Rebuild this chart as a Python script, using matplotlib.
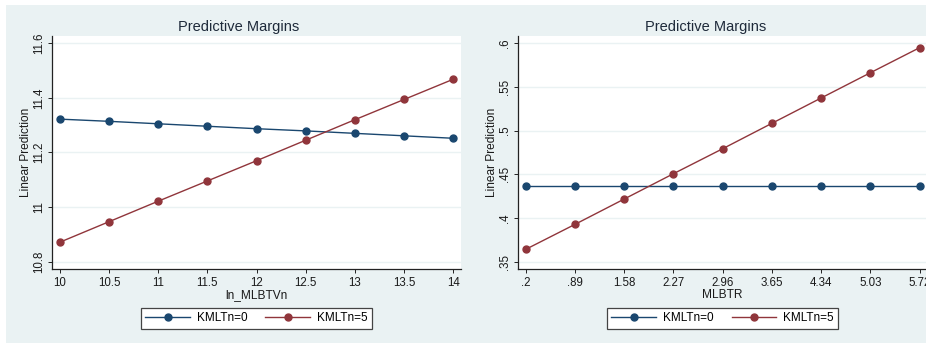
import numpy as np
import matplotlib
matplotlib.use("Agg")
import matplotlib.pyplot as plt
from matplotlib.patches import Rectangle

plt.rcParams['font.family'] = ['Liberation Sans', 'DejaVu Sans']

# left panel: ln_MLBTVn
x_left = [10, 10.5, 11, 11.5, 12, 12.5, 13, 13.5, 14]
left_k0 = [11.322, 11.314, 11.305, 11.296, 11.287, 11.279, 11.270, 11.261, 11.252]
left_k5 = [10.872, 10.947, 11.022, 11.096, 11.170, 11.245, 11.320, 11.394, 11.468]
left_yticks = [10.8, 11, 11.2, 11.4, 11.6]
left_ylabels = ["10.8", "11", "11.2", "11.4", "11.6"]

# right panel: MLBTR
x_right = [0.2, 0.89, 1.58, 2.27, 2.96, 3.65, 4.34, 5.03, 5.72]
x_right_labels = [".2", ".89", "1.58", "2.27", "2.96", "3.65", "4.34", "5.03", "5.72"]
right_k0 = [0.4366, 0.4366, 0.4366, 0.4366, 0.4366, 0.4366, 0.4366, 0.4366, 0.4366]
right_k5 = [0.3641, 0.3927, 0.4217, 0.4507, 0.4793, 0.5084, 0.5374, 0.5663, 0.5950]
right_yticks = [0.35, 0.4, 0.45, 0.5, 0.55, 0.6]
right_ylabels = [".35", ".4", ".45", ".5", ".55", ".6"]

series_names = ["KMLTn=0", "KMLTn=5"]

navy = "#1a476f"
maroon = "#90353b"
bg = "#eaf2f3"
W, H = 926, 343

fig = plt.figure(figsize=(W / 100, H / 100), dpi=100)
fig.patches.append(Rectangle((6 / W, 0), 1 - 6 / W, 1 - 5 / H, transform=fig.transFigure,
                             facecolor=bg, edgecolor="none", zorder=-10))


def px(x0, y0, x1, y1):
    return [x0 / W, 1 - y1 / H, (x1 - x0) / W, (y1 - y0) / H]


def panel(rect, x, k0, k5, xlim, ylim, xt, xtl, yt, ytl, xlabel, title_x, ylabel_x):
    ax = fig.add_axes(rect)
    ax.set_facecolor("white")
    ax.plot(x, k0, color=navy, lw=1.0, marker="o", ms=5, label=series_names[0], zorder=3)
    ax.plot(x, k5, color=maroon, lw=1.0, marker="o", ms=5, label=series_names[1], zorder=3)
    ax.set_xlim(*xlim)
    ax.set_ylim(*ylim)
    ax.set_xticks(xt)
    ax.set_xticklabels(xtl)
    ax.set_yticks(yt)
    ax.set_yticklabels(ytl, rotation=90, va="center")
    for s in ["top", "right"]:
        ax.spines[s].set_visible(False)
    for s in ["left", "bottom"]:
        ax.spines[s].set_color("#222222")
        ax.spines[s].set_linewidth(0.9)
    ax.tick_params(direction="out", length=3, width=0.7, color="#222222",
                   labelsize=8.3, labelcolor="#1a1a1a")
    ax.tick_params(axis="x", pad=3)
    ax.tick_params(axis="y", pad=2)
    ax.yaxis.grid(True, color=bg, lw=1.0)
    ax.set_axisbelow(True)
    ax.text(0.5, -0.112, xlabel, transform=ax.transAxes, ha="center", va="center",
            fontsize=8.6, color="#1a1a1a")
    fig.text(ylabel_x / W, 1 - 152.5 / H, "Linear Prediction", rotation=90,
             ha="center", va="center", fontsize=8.6, color="#1a1a1a")
    fig.text(title_x / W, 1 - 27 / H, "Predictive Margins", ha="center", va="center",
             fontsize=10.5, color="#1e2a3a")
    leg = ax.legend(loc="center", bbox_to_anchor=(0.5, -0.2124), ncol=2, fontsize=8.5,
                    handlelength=3.8, handletextpad=0.6, columnspacing=1.5,
                    fancybox=False, framealpha=1, borderpad=0.35)
    leg.get_frame().set_edgecolor("#444444")
    leg.get_frame().set_linewidth(0.9)
    return ax


panel(px(52, 36, 461, 269), x_left, left_k0, left_k5, (9.92, 14.078), (10.774, 11.626),
      x_left, [f"{v:g}" for v in x_left], left_yticks, left_ylabels, "ln_MLBTVn", 239, 26)
panel(px(518.3, 36, 927, 269), x_right, right_k0, right_k5, (0.096, 5.824), (0.3416, 0.6084),
      x_right, x_right_labels, right_yticks, right_ylabels, "MLBTR", 705.7, 492)

fig.savefig("out.png", dpi=100, facecolor="white")
